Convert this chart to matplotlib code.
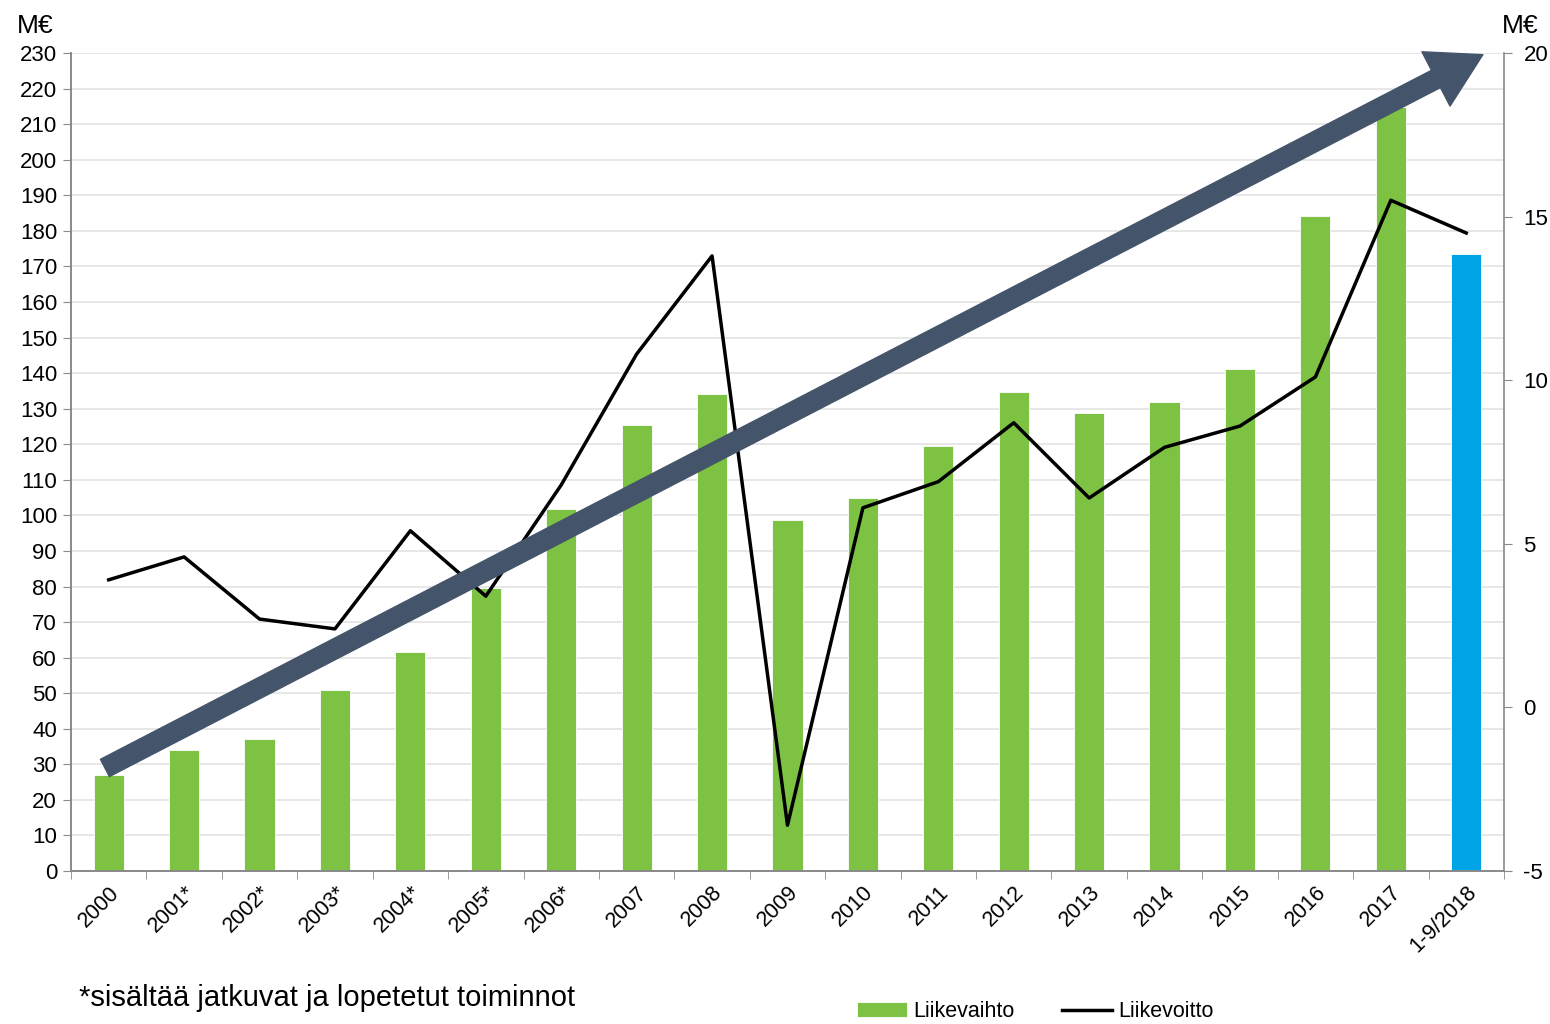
import matplotlib.pyplot as plt
import numpy as np

plt.rcParams['font.family'] = ['Liberation Sans', 'DejaVu Sans']
plt.rcParams['axes.unicode_minus'] = False

years = ['2000', '2001*', '2002*', '2003*', '2004*', '2005*', '2006*', '2007',
         '2008', '2009', '2010', '2011', '2012', '2013', '2014', '2015',
         '2016', '2017', '1-9/2018']
liikevaihto = [27, 34, 37, 51, 61.6, 79.6, 101.8, 125.4, 134.1, 98.7, 104.9,
               119.5, 134.7, 128.8, 131.9, 141.1, 184.1, 214.8, 173.5]
liikevoitto = [3.9, 4.6, 2.7, 2.4, 5.4, 3.4, 6.8, 10.8, 13.8, -3.6, 6.1,
               6.9, 8.7, 6.4, 7.95, 8.6, 10.1, 15.5, 14.5]

green = '#7DC243'
blue = '#00A4E4'
dark = '#44546A'
spine = '#898989'

fig = plt.figure(figsize=(15.5, 10.24), dpi=100)
ax = fig.add_axes([0.0458, 0.1494, 0.9245, 0.7988])
ax2 = ax.twinx()

x = np.arange(len(years))
colors = [green] * (len(years) - 1) + [blue]
bars = ax.bar(x, liikevaihto, width=0.4, color=colors, edgecolor='white',
              linewidth=0.6, zorder=2, label='Liikevaihto')
line, = ax2.plot(x, liikevoitto, color='black', linewidth=2.5, zorder=3,
                 label='Liikevoitto')

ax.set_xlim(-0.5, len(years) - 0.5)
ax.set_ylim(0, 230)
ax.set_yticks(range(0, 231, 10))
ax2.set_ylim(-5, 20)
ax2.set_yticks(range(-5, 21, 5))

ax.yaxis.grid(True, color='#e3e3e3', linewidth=1.2, zorder=0)
ax.set_axisbelow(True)

ax.set_xticks(x)
ax.set_xticklabels(years, rotation=45, ha='right', rotation_mode='anchor')
ax.set_xticks(np.arange(-0.5, len(years), 1), minor=True)
ax.tick_params(axis='x', which='major', length=0, labelsize=15.5, pad=8)
ax.tick_params(axis='x', which='minor', length=6, color=spine)
ax.tick_params(axis='y', labelsize=16, length=6, color=spine, pad=4)
ax2.tick_params(axis='y', labelsize=16, length=6, color=spine, pad=8)

for a in (ax, ax2):
    a.spines['top'].set_visible(False)
    for s in ('left', 'right', 'bottom'):
        a.spines[s].set_color(spine)
        a.spines[s].set_linewidth(1.2)
ax.spines['right'].set_visible(False)

# big trend arrow on top of everything
ax2.annotate('', xy=(18.22, 19.95), xytext=(-0.05, -1.85),
             xycoords='data', textcoords='data',
             arrowprops=dict(arrowstyle='simple,head_length=3.8,head_width=4.4,tail_width=1.4',
                             mutation_scale=10, color=dark, shrinkA=0, shrinkB=0),
             zorder=10, annotation_clip=False)

fig.text(0.011, 0.968, 'M€', fontsize=19)
fig.text(0.969, 0.968, 'M€', fontsize=19)
fig.text(0.051, 0.018, '*sisältää jatkuvat ja lopetetut toiminnot', fontsize=21)

fig.legend(handles=[bars, line], labels=['Liikevaihto', 'Liikevoitto'],
           loc='center', bbox_to_anchor=(0.668, 0.012), ncol=2, frameon=False,
           fontsize=15.5, handlelength=2.3, columnspacing=2.2, handletextpad=0.3)

fig.savefig('out.png', dpi=100)
